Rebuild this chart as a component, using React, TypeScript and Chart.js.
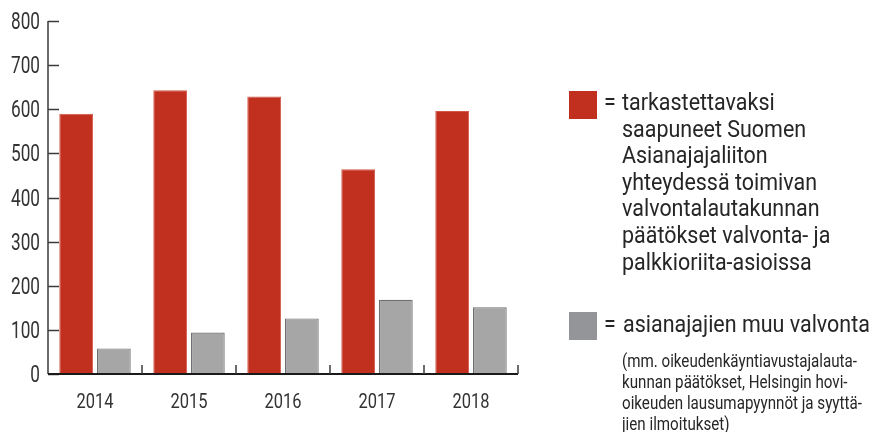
import React, { useEffect, useRef } from "react";
import { Chart, registerables } from "chart.js";

Chart.register(...registerables);

const categories = ["2014", "2015", "2016", "2017", "2018"];
const redValues = [590, 643, 629, 464, 596];
const grayValues = [58, 94, 126, 168, 151];
const yTicks = [0, 100, 200, 300, 400, 500, 600, 700, 800];
const redLegendLines = [
  "tarkastettavaksi",
  "saapuneet Suomen",
  "Asianajajaliiton",
  "yhteydessä toimivan",
  "valvontalautakunnan",
  "päätökset valvonta- ja",
  "palkkioriita-asioissa",
];
const grayLegendLine = "asianajajien muu valvonta";
const grayNoteLines = [
  "(mm. oikeudenkäyntiavustajalauta-",
  "kunnan päätökset, Helsingin hovi-",
  "oikeuden lausumapyynnöt ja syyttä-",
  "jien ilmoitukset)",
];

const FONT = "Roboto, 'Noto Sans', sans-serif";
const RED = "#c12f1e";
const GRAY = "#a6a6a6";
const TEXT = "#262626";

function measure(text: string, font: string): number {
  const c = document.createElement("canvas");
  const ctx = c.getContext("2d")!;
  ctx.font = font;
  return ctx.measureText(text).width;
}

const Y_FONT = "24px " + FONT;
const X_FONT = "21px " + FONT;

const axisPlugin = {
  id: "customAxes",
  afterDatasetsDraw(chart: any) {
    const { ctx, chartArea, scales } = chart;
    const x = scales.x;
    const y = scales.y;
    ctx.save();
    ctx.strokeStyle = "#3a3a3a";
    ctx.lineWidth = 1.5;
    ctx.beginPath();
    ctx.moveTo(chartArea.left, y.getPixelForValue(800));
    ctx.lineTo(chartArea.left, y.getPixelForValue(0));
    ctx.stroke();
    yTicks.forEach((v) => {
      const py = Math.round(y.getPixelForValue(v)) + 0.5;
      ctx.beginPath();
      ctx.moveTo(chartArea.left, py);
      ctx.lineTo(chartArea.left + 11, py);
      ctx.stroke();
    });
    ctx.strokeStyle = "#1a1a1a";
    ctx.lineWidth = 2;
    const by = y.getPixelForValue(0);
    ctx.beginPath();
    ctx.moveTo(chartArea.left, by);
    ctx.lineTo(chartArea.right, by);
    ctx.stroke();
    ctx.strokeStyle = "#3a3a3a";
    ctx.lineWidth = 1.5;
    for (let i = 1; i <= categories.length; i++) {
      const px =
        i < categories.length
          ? (x.getPixelForValue(i - 1) + x.getPixelForValue(i)) / 2
          : chartArea.right;
      ctx.beginPath();
      ctx.moveTo(px, by);
      ctx.lineTo(px, by - 9);
      ctx.stroke();
    }

    // condensed tick labels
    ctx.fillStyle = "#333";
    ctx.font = Y_FONT;
    const sy = 29 / ctx.measureText("800").width;
    ctx.textAlign = "right";
    ctx.textBaseline = "middle";
    yTicks.forEach((v) => {
      const py = y.getPixelForValue(v) + 2;
      ctx.save();
      ctx.translate(chartArea.left - 8, py);
      ctx.scale(sy, 1);
      ctx.fillText(String(v), 0, 0);
      ctx.restore();
    });
    ctx.font = X_FONT;
    const sx = 37 / ctx.measureText("2014").width;
    ctx.textAlign = "center";
    ctx.textBaseline = "middle";
    categories.forEach((c, i) => {
      const px = x.getPixelForValue(i);
      ctx.save();
      ctx.translate(px, 403);
      ctx.scale(sx, 1);
      ctx.fillText(c, 0, 0);
      ctx.restore();
    });
    ctx.restore();
  },
};

function ChartCanvas() {
  const ref = useRef<HTMLCanvasElement | null>(null);
  useEffect(() => {
    if (!ref.current) return;
    const chart = new Chart(ref.current, {
      type: "bar",
      data: {
        labels: categories,
        datasets: [
          {
            data: redValues,
            backgroundColor: RED,
            borderColor: "#d4584a",
            borderWidth: 1,
            categoryPercentage: 0.8,
            barPercentage: 0.9,
          },
          {
            data: grayValues,
            backgroundColor: GRAY,
            borderColor: "#6f6f6f",
            borderWidth: 1.2,
            categoryPercentage: 0.8,
            barPercentage: 0.9,
          },
        ],
      },
      options: {
        animation: false,
        responsive: false,
        maintainAspectRatio: false,
        layout: { padding: { top: 21, right: 356, left: 0, bottom: 0 } },
        plugins: { legend: { display: false }, tooltip: { enabled: false } },
        scales: {
          x: {
            grid: { display: false, drawTicks: false },
            border: { display: false },
            ticks: { display: false },
            afterFit(scale: any) {
              scale.height = 58;
            },
          },
          y: {
            min: 0,
            max: 800,
            grid: { display: false, drawTicks: false },
            border: { display: false },
            ticks: { display: false, stepSize: 100 },
            afterFit(scale: any) {
              scale.width = 48;
            },
          },
        },
      },
      plugins: [axisPlugin],
    });
    return () => chart.destroy();
  }, []);
  return (
    <canvas
      ref={ref}
      width={874}
      height={432}
      style={{ position: "absolute", left: 0, top: 0, width: 874, height: 432 }}
    />
  );
}

function Squeezed(props: { text: string; scale: number; left: number; top: number; size: number; lh: number }) {
  return (
    <div
      style={{
        position: "absolute",
        left: props.left,
        top: props.top,
        fontSize: props.size,
        lineHeight: props.lh + "px",
        whiteSpace: "nowrap",
        transform: `scaleX(${props.scale})`,
        transformOrigin: "left top",
      }}
    >
      {props.text}
    </div>
  );
}

export default function App() {
  const bigFont = "23px " + FONT;
  const smallFont = "18px " + FONT;
  const sRed = 210 / measure("päätökset valvonta- ja", bigFont);
  const sGray = 245 / measure(grayLegendLine, bigFont);
  const sBig = (sRed + sGray) / 2;
  const sSmall = 235 / measure(grayNoteLines[0], smallFont);
  const lh = 26.6;
  const redTop = 90;
  return (
    <div
      style={{
        position: "absolute",
        left: 0,
        top: 0,
        width: 874,
        height: 432,
        background: "#fff",
        fontFamily: FONT,
        color: TEXT,
      }}
    >
      <ChartCanvas />
      <div style={{ position: "absolute", left: 569, top: 91, width: 28, height: 28, background: RED }} />
      <Squeezed text="=" scale={sBig} left={604} top={redTop} size={23} lh={lh} />
      {redLegendLines.map((l, i) => (
        <Squeezed key={i} text={l} scale={sBig} left={622} top={redTop + i * lh} size={23} lh={lh} />
      ))}
      <div style={{ position: "absolute", left: 569, top: 312, width: 28, height: 28, background: "#939598" }} />
      <Squeezed text="=" scale={sBig} left={604} top={312} size={23} lh={lh} />
      <Squeezed text={grayLegendLine} scale={sBig} left={622.5} top={312} size={23} lh={lh} />
      {grayNoteLines.map((l, i) => (
        <Squeezed key={i} text={l} scale={sSmall} left={621.5} top={349.5 + i * 21} size={18} lh={21} />
      ))}
    </div>
  );
}
